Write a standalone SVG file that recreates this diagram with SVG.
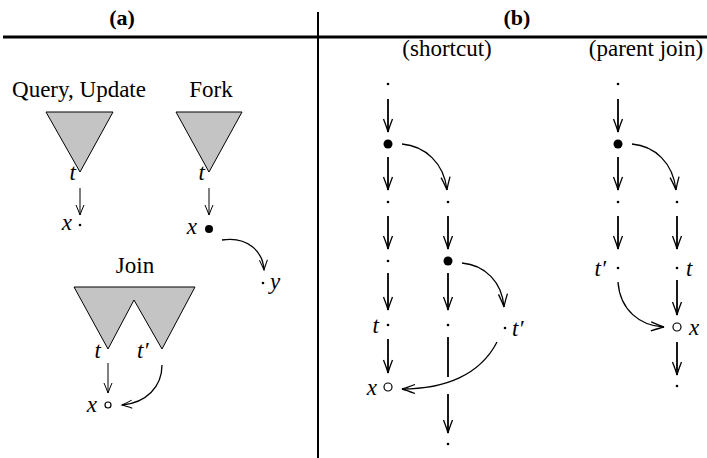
<svg xmlns="http://www.w3.org/2000/svg" width="707" height="458" viewBox="0 0 707 458">
<style>
text{font-family:"Liberation Serif","Times New Roman",serif;fill:#000}
.hd{font-size:22px;font-weight:bold;text-anchor:middle}
.lb{font-size:23px;text-anchor:middle}
.m{font-size:23px;font-style:italic}
.tri{fill:#c4c4c4;stroke:#000;stroke-width:1}
.la{stroke:#000;stroke-width:1;fill:none}
.lb2{stroke:#000;stroke-width:1.8;fill:none}
.cv{stroke:#000;stroke-width:1.3;fill:none}
.dot{fill:#000}
.oc{fill:#fff;stroke:#000;stroke-width:1.2}
</style>
<defs>
<marker id="ahA" markerUnits="userSpaceOnUse" markerWidth="14" markerHeight="12" viewBox="-12 -6 14 12" refX="0" refY="0" orient="auto"><path d="M-10,-4 Q-3,-1 0,0 Q-3,1 -10,4" fill="none" stroke="#000" stroke-width="1"/></marker>
<marker id="ahB" markerUnits="userSpaceOnUse" markerWidth="16" markerHeight="12" viewBox="-14 -6 16 12" refX="0" refY="0" orient="auto"><path d="M-13,-4.5 Q-4,-1 0,0 Q-4,1 -13,4.5" fill="none" stroke="#000" stroke-width="1.3"/></marker>
</defs>

<g id="frame">
<line x1="3" y1="37" x2="707" y2="37" stroke="#000" stroke-width="3"/>
<line x1="318" y1="12" x2="318" y2="458" stroke="#000" stroke-width="2"/>
<text class="hd" x="122" y="25">(a)</text>
<text class="hd" x="517" y="25">(b)</text>
<text class="lb" x="447" y="56">(shortcut)</text>
<text class="lb" x="646" y="56">(parent join)</text>
</g>

<g id="query-update">
<text class="lb" x="79" y="97" font-size="24">Query, Update</text>
<polygon class="tri" points="46,112 113,112 80,172"/>
<text class="m" x="76" y="180" text-anchor="end">t</text>
<text class="m" x="72" y="230" text-anchor="end">x</text>
<circle class="dot" cx="80" cy="225" r="1.3"/>
</g>

<g id="fork">
<text class="lb" x="211" y="97" font-size="24">Fork</text>
<polygon class="tri" points="176,112 242,112 209,172"/>
<text class="m" x="205" y="180" text-anchor="end">t</text>
<text class="m" x="197" y="234" text-anchor="end">x</text>
<circle class="dot" cx="209" cy="229" r="4"/>
<circle class="dot" cx="263" cy="283" r="1.3"/>
<text class="m" x="270" y="289">y</text>
</g>

<g id="join">
<text class="lb" x="135" y="273" font-size="24">Join</text>
<polygon class="tri" points="74,287 195,287 162,349 134,300 108,349"/>
<text class="m" x="101" y="358" text-anchor="end">t</text>
<text class="m" x="137" y="358">t′</text>
<text class="m" x="97" y="412" text-anchor="end">x</text>
<circle class="oc" cx="108" cy="405" r="3"/>
</g>

<g id="shortcut">
<circle class="dot" cx="388" cy="84" r="1.3"/>
<circle class="dot" cx="388" cy="144" r="4.5"/>
<circle class="dot" cx="388" cy="202" r="1.3"/>
<circle class="dot" cx="388" cy="261" r="1.3"/>
<circle class="dot" cx="388" cy="325" r="1.3"/>
<text class="m" x="379" y="333" text-anchor="end">t</text>
<circle class="oc" cx="388" cy="387" r="4"/>
<text class="m" x="377" y="395" text-anchor="end">x</text>
<circle class="dot" cx="448" cy="202" r="1.3"/>
<circle class="dot" cx="448" cy="261" r="4.5"/>
<circle class="dot" cx="448" cy="325" r="1.3"/>
<circle class="dot" cx="448" cy="444" r="1.3"/>
<circle class="dot" cx="505" cy="328" r="1.3"/>
<text class="m" x="512" y="336">t′</text>
</g>

<g id="parent-join">
<circle class="dot" cx="618" cy="84" r="1.3"/>
<circle class="dot" cx="618" cy="144" r="4.5"/>
<circle class="dot" cx="618" cy="202" r="1.3"/>
<circle class="dot" cx="618" cy="268" r="1.3"/>
<text class="m" x="606" y="276" text-anchor="end">t′</text>
<circle class="dot" cx="677" cy="202" r="1.3"/>
<circle class="dot" cx="677" cy="268" r="1.3"/>
<text class="m" x="686" y="276">t</text>
<circle class="oc" cx="677" cy="327" r="4"/>
<text class="m" x="689" y="335">x</text>
<circle class="dot" cx="677" cy="386" r="1.3"/>
</g>

<g id="connectors">
<line class="la" x1="80" y1="188" x2="80" y2="215" marker-end="url(#ahA)"/>
<line class="la" x1="209" y1="188" x2="209" y2="215" marker-end="url(#ahA)"/>
<path class="cv" d="M222,240 C248,236 263,252 264,270" marker-end="url(#ahA)"/>
<line class="la" x1="108" y1="363" x2="108" y2="393" marker-end="url(#ahA)"/>
<path class="cv" d="M162,365 C162,387 146,403 122,405" marker-end="url(#ahA)"/>

<line class="lb2" x1="388" y1="99" x2="388" y2="132" marker-end="url(#ahB)"/>
<line class="lb2" x1="388" y1="157" x2="388" y2="190" marker-end="url(#ahB)"/>
<line class="lb2" x1="388" y1="216" x2="388" y2="249" marker-end="url(#ahB)"/>
<line class="lb2" x1="388" y1="273" x2="388" y2="310" marker-end="url(#ahB)"/>
<line class="lb2" x1="388" y1="339" x2="388" y2="373" marker-end="url(#ahB)"/>
<path class="cv" d="M402,144 C425,146 444,163 447,190" marker-end="url(#ahB)"/>
<line class="lb2" x1="448" y1="216" x2="448" y2="249" marker-end="url(#ahB)"/>
<line class="lb2" x1="448" y1="273" x2="448" y2="310" marker-end="url(#ahB)"/>
<line class="lb2" x1="448" y1="337" x2="448" y2="377"/>
<line class="lb2" x1="448" y1="394" x2="448" y2="433" marker-end="url(#ahB)"/>
<path class="cv" d="M462,263 C485,265 502,282 504,307" marker-end="url(#ahB)"/>
<path class="cv" d="M497,342 C480,375 445,389 402,389" marker-end="url(#ahB)"/>

<line class="lb2" x1="618" y1="99" x2="618" y2="132" marker-end="url(#ahB)"/>
<line class="lb2" x1="618" y1="157" x2="618" y2="190" marker-end="url(#ahB)"/>
<line class="lb2" x1="618" y1="216" x2="618" y2="249" marker-end="url(#ahB)"/>
<path class="cv" d="M632,144 C655,146 673,163 676,190" marker-end="url(#ahB)"/>
<line class="lb2" x1="677" y1="216" x2="677" y2="249" marker-end="url(#ahB)"/>
<line class="lb2" x1="677" y1="280" x2="677" y2="315" marker-end="url(#ahB)"/>
<path class="cv" d="M618,282 C620,310 640,326 664,327" marker-end="url(#ahB)"/>
<line class="lb2" x1="677" y1="342" x2="677" y2="375" marker-end="url(#ahB)"/>
</g>
</svg>
